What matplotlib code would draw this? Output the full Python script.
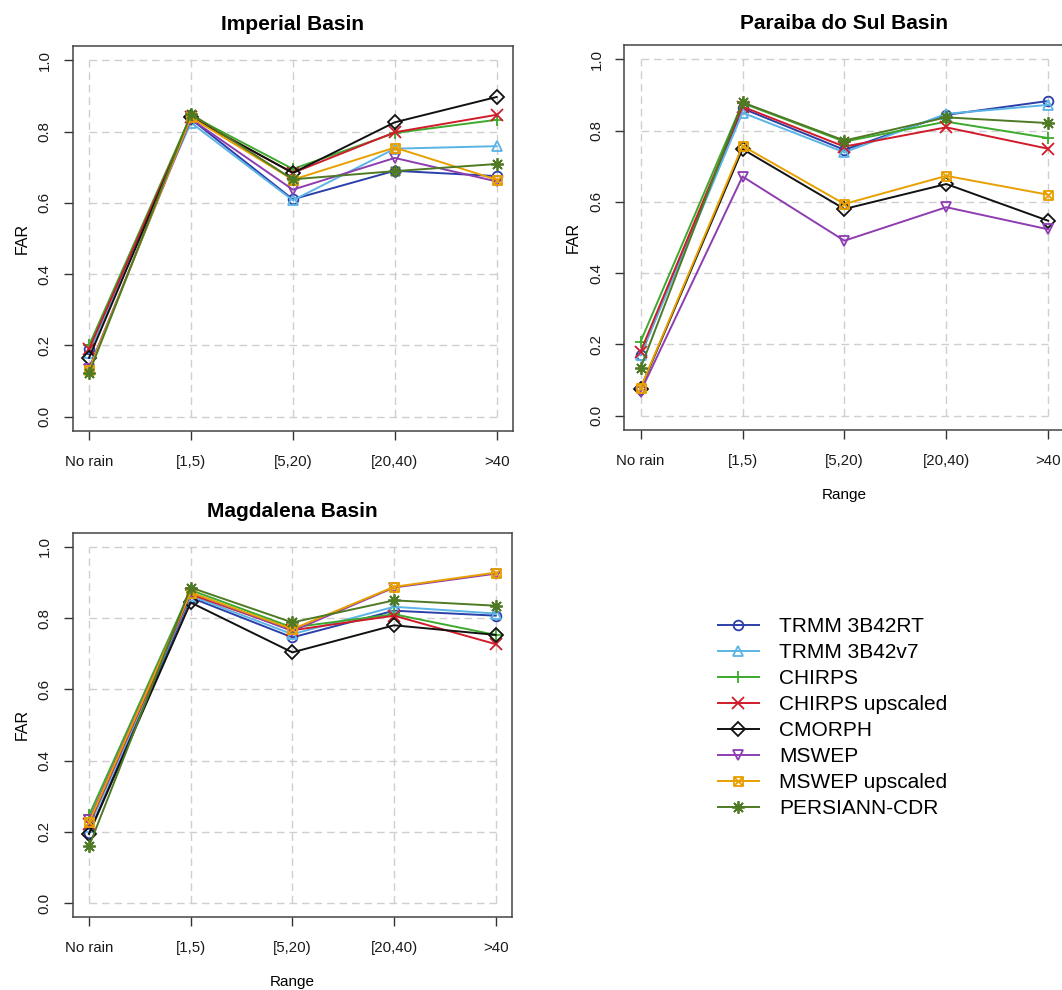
import matplotlib
matplotlib.use("Agg")
import matplotlib.pyplot as plt
from matplotlib.path import Path

plt.rcParams['font.family'] = ['Liberation Sans', 'DejaVu Sans']

ranges = ["No rain", "[1,5)", "[5,20)", "[20,40)", ">40"]
products = ["TRMM 3B42RT", "TRMM 3B42v7", "CHIRPS", "CHIRPS upscaled",
            "CMORPH", "MSWEP", "MSWEP upscaled", "PERSIANN-CDR"]

# FAR per product (rows in the order of `products`)
imperial = [
    [0.190, 0.835, 0.610, 0.690, 0.675],
    [0.180, 0.825, 0.607, 0.752, 0.759],
    [0.200, 0.845, 0.695, 0.796, 0.833],
    [0.190, 0.840, 0.684, 0.798, 0.847],
    [0.165, 0.840, 0.684, 0.826, 0.897],
    [0.135, 0.835, 0.637, 0.726, 0.660],
    [0.130, 0.840, 0.665, 0.755, 0.665],
    [0.122, 0.850, 0.666, 0.689, 0.709],
]
paraiba = [
    [0.170, 0.862, 0.746, 0.844, 0.883],
    [0.170, 0.850, 0.739, 0.847, 0.872],
    [0.208, 0.877, 0.769, 0.825, 0.779],
    [0.180, 0.867, 0.755, 0.809, 0.749],
    [0.076, 0.748, 0.580, 0.650, 0.547],
    [0.068, 0.671, 0.491, 0.585, 0.523],
    [0.078, 0.757, 0.594, 0.673, 0.620],
    [0.134, 0.879, 0.772, 0.837, 0.821],
]
magdalena = [
    [0.196, 0.858, 0.746, 0.821, 0.807],
    [0.213, 0.863, 0.755, 0.832, 0.813],
    [0.246, 0.879, 0.774, 0.811, 0.753],
    [0.222, 0.867, 0.766, 0.807, 0.727],
    [0.194, 0.844, 0.704, 0.780, 0.753],
    [0.232, 0.872, 0.764, 0.886, 0.925],
    [0.227, 0.872, 0.769, 0.888, 0.928],
    [0.159, 0.886, 0.788, 0.850, 0.835],
]

colors = ['#2B3FA8', '#5AB4E5', '#3DAA2D', '#D01C2A',
          '#111111', '#8E3DB0', '#E8A000', '#4E7A24']

# square with a cross inside (R pch 7)
boxx = Path([(-1, -1), (1, -1), (1, 1), (-1, 1), (-1, -1),
             (-1, -1), (1, 1), (-1, 1), (1, -1)],
            [Path.MOVETO, Path.LINETO, Path.LINETO, Path.LINETO, Path.CLOSEPOLY,
             Path.MOVETO, Path.LINETO, Path.MOVETO, Path.LINETO])
markers = ['o', '^', '+', 'x', 'D', 'v', boxx, (8, 2, 0)]
msizes = [7, 7.5, 9, 8, 7, 7.5, 6.5, 9]

fig = plt.figure(figsize=(10.62, 9.9), dpi=100)
W, H = 1062.0, 990.0


def make_ax(l, t, r, b):
    return fig.add_axes([l / W, 1 - b / H, (r - l) / W, (b - t) / H])


def panel(ax, data, title, xlabel=True):
    x = list(range(1, len(ranges) + 1))
    ax.vlines(x, 0, 1, colors='#CFCFCF', linestyles=(0, (5.5, 3.5)), lw=1, zorder=0)
    ax.hlines([0, 0.2, 0.4, 0.6, 0.8, 1.0], 1, len(ranges), colors='#CFCFCF',
              linestyles=(0, (5.5, 3.5)), lw=1, zorder=0)
    lines = []
    for i, row in enumerate(data):
        ln, = ax.plot(x, row, color=colors[i], marker=markers[i], ms=msizes[i],
                      mfc='none', mec=colors[i], mew=1.3, lw=1.4, label=products[i])
        lines.append(ln)
    ax.set_xlim(0.84, 5.16)
    ax.set_ylim(-0.04, 1.04)
    ax.set_xticks(x)
    ax.set_xticklabels(ranges)
    ax.set_yticks([0, 0.2, 0.4, 0.6, 0.8, 1.0])
    ax.set_yticklabels(['0.0', '0.2', '0.4', '0.6', '0.8', '1.0'], rotation=90, va='center')
    ax.tick_params(axis='both', length=6.5, width=1, color='#333333', labelsize=10.8,
                   labelcolor='#1a1a1a')
    ax.tick_params(axis='x', pad=10.5)
    ax.tick_params(axis='y', pad=8.5)
    for s in ax.spines.values():
        s.set_color('#444444')
        s.set_linewidth(1.1)
    ax.set_ylabel('FAR', fontsize=11.5, labelpad=6)
    if xlabel:
        ax.set_xlabel('Range', fontsize=11, labelpad=14.5)
    ax.set_title(title, fontsize=15, fontweight='bold', pad=11.5)
    return lines


ax1 = make_ax(72.7, 46, 513, 431)
ax2 = make_ax(624.3, 45, 1064.5, 430)
ax3 = make_ax(72.7, 532.7, 512, 917.3)

handles = panel(ax1, imperial, 'Imperial Basin', xlabel=False)
panel(ax2, paraiba, 'Paraiba do Sul Basin')
panel(ax3, magdalena, 'Magdalena Basin')

fig.legend(handles=handles, loc='upper left', bbox_to_anchor=(718 / W, 1 - 617 / H),
           frameon=False, fontsize=15, handlelength=1.95, handletextpad=1.0,
           labelspacing=0.335, borderpad=0, borderaxespad=0)

fig.savefig('out.png', dpi=100)
